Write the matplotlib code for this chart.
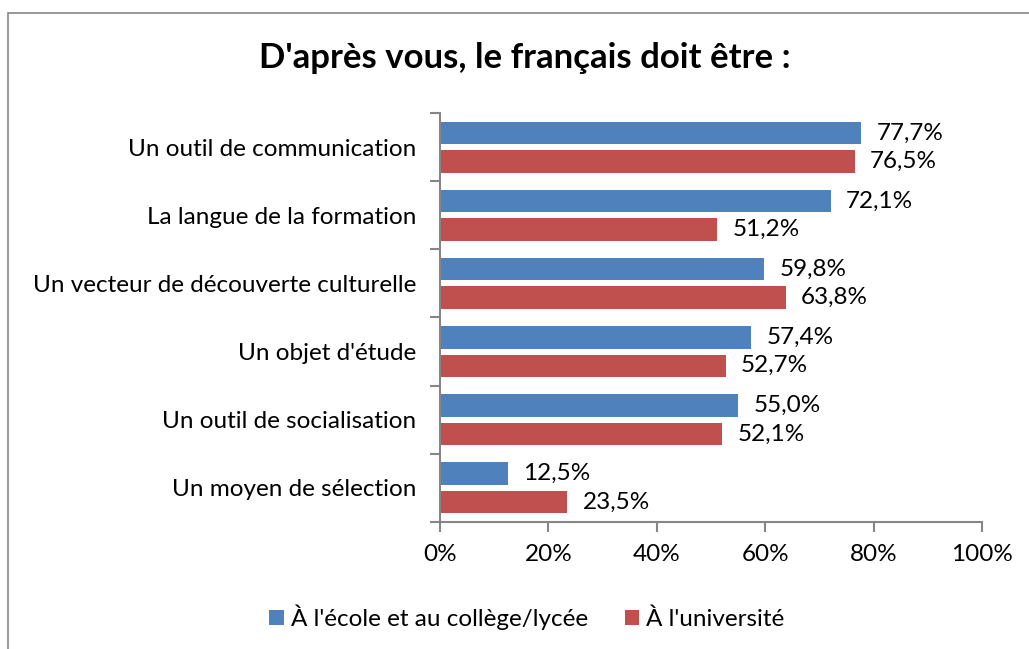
import matplotlib.pyplot as plt
from matplotlib.patches import Rectangle
from matplotlib.ticker import FixedLocator, PercentFormatter

plt.rcParams['font.family'] = ['Lato', 'DejaVu Sans']

# Données
categories = [
    "Un outil de communication",
    "La langue de la formation",
    "Un vecteur de découverte culturelle",
    "Un objet d'étude",
    "Un outil de socialisation",
    "Un moyen de sélection",
]
ecole = [77.7, 72.1, 59.8, 57.4, 55.0, 12.5]
universite = [76.5, 51.2, 63.8, 52.7, 52.1, 23.5]
series = ["À l'école et au collège/lycée", "À l'université"]

bleu = "#4F81BD"
rouge = "#C0504D"
gris = "#868686"
taille = 17.5

fig = plt.figure(figsize=(10.29, 6.49), dpi=100)
ax = fig.add_axes([0.4276, 0.1957, 0.5267, 0.6302])

y = list(range(len(categories)))
h = 0.33
y_ecole = [v - 0.208 for v in y]
y_univ = [v + 0.208 for v in y]

b1 = ax.barh(y_ecole, ecole, height=h, color=bleu, label=series[0])
b2 = ax.barh(y_univ, universite, height=h, color=rouge, label=series[1])

for barres, valeurs in ((b1, ecole), (b2, universite)):
    for barre, v in zip(barres, valeurs):
        ax.annotate(f"{v:.1f}%".replace(".", ","),
                    (v, barre.get_y() + barre.get_height() / 2),
                    xytext=(11, 0), textcoords="offset points",
                    va="center", ha="left", fontsize=taille)

ax.set_xlim(0, 100)
ax.set_ylim(len(categories) - 0.5, -0.5)
ax.set_xticks([0, 20, 40, 60, 80, 100])
ax.xaxis.set_major_formatter(PercentFormatter(decimals=0))

# graduations aux limites des catégories, étiquettes au centre
ax.yaxis.set_major_locator(FixedLocator([i - 0.5 for i in range(len(categories) + 1)]))
ax.yaxis.set_minor_locator(FixedLocator(y))
ax.set_yticklabels([], minor=False)
ax.set_yticklabels(categories, minor=True)
ax.tick_params(axis="y", which="minor", length=0, pad=17, labelsize=taille)
ax.tick_params(axis="y", which="major", length=7, width=1.5, color=gris)
ax.tick_params(axis="x", length=7, width=1.5, color=gris, pad=9, labelsize=taille)

for s in ("top", "right"):
    ax.spines[s].set_visible(False)
for s in ("left", "bottom"):
    ax.spines[s].set_color(gris)
    ax.spines[s].set_linewidth(1.5)

fig.text(0.51, 0.91, "D'après vous, le français doit être :",
         ha="center", va="center", fontsize=25, fontweight="bold")

fig.legend(handles=[b1, b2], labels=series, loc="center",
           bbox_to_anchor=(0.512, 0.049), ncol=2, frameon=False,
           fontsize=taille, handlelength=0.6, handleheight=0.6,
           handletextpad=0.3, columnspacing=1.5)

# cadre du graphique
fig.patches.append(Rectangle((8 / 1029, -0.05), 1.1, 1 - 13 / 649 + 0.05,
                             transform=fig.transFigure, fill=False,
                             edgecolor=gris, linewidth=1.2, clip_on=False))

fig.savefig("out.png", dpi=100)
